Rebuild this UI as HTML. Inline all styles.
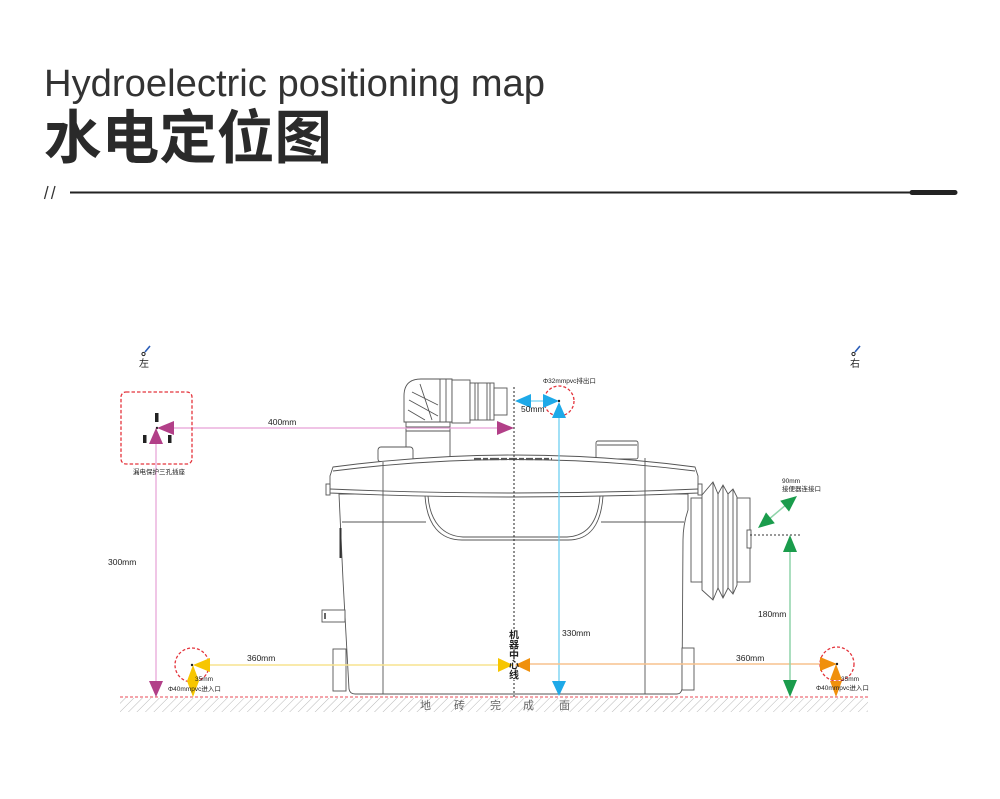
<!DOCTYPE html>
<html><head><meta charset="utf-8">
<style>
html,body{margin:0;padding:0;background:#fff;}
svg{display:block;}
text{font-family:"Liberation Sans","Noto Sans CJK SC",sans-serif;}
</style></head><body>
<svg width="1000" height="799" viewBox="0 0 1000 799" xmlns="http://www.w3.org/2000/svg">
<defs>
<pattern id="hatch" patternUnits="userSpaceOnUse" width="6" height="6" patternTransform="rotate(45)">
<line x1="0" y1="0" x2="0" y2="6" stroke="#b0b0b0" stroke-width="0.9"/>
</pattern>
</defs>
<rect width="1000" height="799" fill="#fff"/>

<!-- header -->
<text x="44" y="96" font-size="38" fill="#333" textLength="501" lengthAdjust="spacingAndGlyphs">Hydroelectric positioning map</text>
<text x="44" y="158" font-size="58" font-weight="bold" fill="#2a2a2a" style="font-family:'Noto Sans CJK SC',sans-serif" textLength="288" lengthAdjust="spacingAndGlyphs">水电定位图</text>
<line x1="44.5" y1="199" x2="48" y2="186" stroke="#333" stroke-width="1.3"/>
<line x1="51.5" y1="199" x2="55" y2="186" stroke="#333" stroke-width="1.3"/>
<line x1="70" y1="192.5" x2="912" y2="192.5" stroke="#222" stroke-width="2"/>
<line x1="912" y1="192.5" x2="955" y2="192.5" stroke="#222" stroke-width="5" stroke-linecap="round"/>

<!-- ground -->
<rect x="120" y="698" width="748" height="14" fill="url(#hatch)"/>
<line x1="120" y1="697" x2="868" y2="697" stroke="#e84a55" stroke-width="1" stroke-dasharray="3 2"/>
<text x="420" y="709" font-size="11" fill="#666">地</text>
<text x="454" y="709" font-size="11" fill="#666">砖</text>
<text x="490" y="709" font-size="11" fill="#666">完</text>
<text x="523" y="709" font-size="11" fill="#666">成</text>
<text x="559" y="709" font-size="11" fill="#666">面</text>

<!-- machine -->
<g stroke="#555" stroke-width="0.9" fill="#fff">
  <!-- pipe -->
  <rect x="406" y="422" width="44" height="37"/>
  <line x1="406" y1="427" x2="450" y2="427"/>
  <line x1="406" y1="431" x2="450" y2="431"/>
  <path d="M404 422 L404 396 Q404 379 421 379 L452 379 L452 422 Z"/>
  <line x1="440" y1="379" x2="440" y2="422"/>
  <line x1="446" y1="379" x2="446" y2="422"/>
  <path d="M409 400 L438 416 M412 392 L438 405 M420 384 L432 420 M408 410 L425 420" fill="none"/>
  <rect x="452" y="380" width="18" height="43"/>
  <rect x="470" y="383" width="24" height="37"/>
  <line x1="475" y1="383" x2="475" y2="420"/>
  <line x1="478" y1="383" x2="478" y2="420"/>
  <line x1="487" y1="383" x2="487" y2="420"/>
  <line x1="490" y1="383" x2="490" y2="420"/>
  <rect x="494" y="388" width="13" height="27"/>
  <!-- caps -->
  <rect x="378" y="447" width="35" height="15" rx="3"/>
  <rect x="596" y="441" width="42" height="18" rx="2"/>
  <line x1="597" y1="445" x2="637" y2="445"/>
  <!-- body -->
  <path d="M339 494 L343 580 L349 689 Q350 694 355 694 L677 694 Q681 694 682 689 L683 540 Q683 525 688 510 L688 494 Z"/>
  <!-- lid -->
  <path d="M333 467 Q514 443 695 467 L698 476 L698 493 Q514 501 330 493 L330 476 Z"/>
  <path d="M333 471 Q514 448 695 471" fill="none"/>
  <path d="M330 489 Q514 497 698 489" fill="none"/>
  <rect x="326" y="484" width="4" height="11"/>
  <rect x="698" y="484" width="4" height="11"/>
  <!-- verticals -->
  <line x1="383" y1="462" x2="383" y2="694"/>
  <line x1="645" y1="458" x2="645" y2="694"/>
  <line x1="342" y1="522" x2="426" y2="522"/>
  <line x1="601" y1="522" x2="684" y2="522"/>
  <!-- bowl -->
  <path d="M425 496 C427 525 440 540 462 540 L568 540 C590 540 601 525 603 496" fill="none"/>
  <path d="M428 496 C430 522 443 536 463 537 L567 537 C587 536 598 522 600 496" fill="none"/>
  <!-- stub + feet -->
  <rect x="322" y="610" width="23" height="12"/>
  <rect x="333" y="649" width="13" height="42"/>
  <rect x="682" y="648" width="12" height="42"/>
  <!-- right connector -->
  <rect x="691" y="498" width="11" height="84"/>
  <path d="M702 495 L713 482 L718 494 L723 485 L728 494 L733 489 L737 497 L737 585 L733 594 L728 588 L723 598 L718 588 L713 600 L702 590 Z"/>
  <line x1="713" y1="482" x2="713" y2="600"/>
  <line x1="718" y1="494" x2="718" y2="588"/>
  <line x1="723" y1="485" x2="723" y2="598"/>
  <line x1="728" y1="494" x2="728" y2="588"/>
  <line x1="733" y1="489" x2="733" y2="594"/>
  <rect x="737" y="498" width="13" height="84"/>
  <rect x="747" y="530" width="4" height="18"/>
</g>
<line x1="340.5" y1="528" x2="340.5" y2="558" stroke="#333" stroke-width="2"/>
<line x1="325" y1="613" x2="325" y2="619" stroke="#333" stroke-width="1.5"/>
<path d="M474 459 L552 459" stroke="#555" stroke-width="2.2" stroke-dasharray="7 2 5 2 9 2 6 2 8 2 5 2 7 2"/>

<!-- center line -->
<line x1="514" y1="387" x2="514" y2="697" stroke="#222" stroke-width="1" stroke-dasharray="2 2"/>
<rect x="508" y="629" width="12" height="51" fill="#fff"/>

<!-- colored lines -->
<g fill="none">
  <path d="M156 443 L156 681 M173 428 L498 428" stroke="#e7a0d6" stroke-width="1.2"/>
  <path d="M559 418 L559 681 M530 401 L543 401" stroke="#6fd0f2" stroke-width="1.3"/>
  <path d="M210 665 L499 665" stroke="#f7e38f" stroke-width="1.6"/>
  <path d="M530 664 L820 664" stroke="#f7c28e" stroke-width="1.6"/>
  <path d="M790 552 L790 680 M768 520 L787 504" stroke="#8fd4aa" stroke-width="1.5"/>
  <path d="M750 535 L800 535" stroke="#333" stroke-width="1" stroke-dasharray="2 2"/>
</g>

<!-- socket -->
<rect x="121" y="392" width="71" height="72" rx="5" fill="none" stroke="#e4343c" stroke-width="1.3" stroke-dasharray="3.5 2"/>
<rect x="155" y="413" width="3.5" height="9" fill="#222"/>
<rect x="143" y="435" width="3.5" height="8" fill="#222"/>
<rect x="168" y="435" width="3.5" height="8" fill="#222"/>
<circle cx="157" cy="428" r="1.2" fill="#222"/>

<!-- circles -->
<g fill="none" stroke="#e4343c" stroke-width="1.3" stroke-dasharray="3 2">
  <circle cx="192" cy="665" r="17"/>
  <circle cx="837" cy="664" r="17"/>
  <circle cx="559" cy="401" r="15"/>
</g>

<!-- arrows -->
<g fill="#b23f88">
  <polygon points="156,428 149,444 163,444"/>
  <polygon points="157,428 174,421 174,435"/>
  <polygon points="514,428 497,421 497,435"/>
  <polygon points="156,697 149,681 163,681"/>
</g>
<g fill="#1ea9e8">
  <polygon points="515,401 531,394 531,408"/>
  <polygon points="559,401 543,394 543,408"/>
  <polygon points="559,402 552,418 566,418"/>
  <polygon points="559,696 552,681 566,681"/>
</g>
<g fill="#f7c600">
  <polygon points="193,665 210,658 210,672"/>
  <polygon points="513,665 498,658 498,672"/>
  <polygon points="193,665 187,681 199,681"/>
  <polygon points="193,697 187,681 199,681"/>
</g>
<g fill="#f0900c">
  <polygon points="515,665 530,658 530,672"/>
  <polygon points="837,664 820,657 820,671"/>
  <polygon points="836,664 830,680 842,680"/>
  <polygon points="836,697 830,681 842,681"/>
</g>
<g fill="#1a9c4c">
  <polygon points="790,535 783,552 797,552"/>
  <polygon points="790,697 783,680 797,680"/>
  <polygon points="758,528 774.8,523.2 766,512.4"/>
  <polygon points="797,496 789,511.6 780.2,500.8"/>
</g>
<circle cx="192" cy="665" r="1.2" fill="#222"/>
<circle cx="837" cy="664" r="1.2" fill="#222"/>
<circle cx="559" cy="401" r="1.2" fill="#222"/>

<!-- pins -->
<circle cx="143.5" cy="354" r="1.6" fill="none" stroke="#222" stroke-width="1"/>
<line x1="145" y1="352" x2="150" y2="346" stroke="#2a5db8" stroke-width="1.6"/>
<circle cx="853.5" cy="354" r="1.6" fill="none" stroke="#222" stroke-width="1"/>
<line x1="855" y1="352" x2="860" y2="346" stroke="#2a5db8" stroke-width="1.6"/>
<text x="139" y="367" font-size="10" fill="#222">左</text>
<text x="850" y="367" font-size="10" fill="#222">右</text>

<!-- labels -->
<g fill="#222" font-size="8.5">
  <text x="268" y="425">400mm</text>
  <text x="108" y="565">300mm</text>
  <text x="521" y="412">50mm</text>
  <text x="562" y="636">330mm</text>
  <text x="758" y="617">180mm</text>
  <text x="247" y="661">360mm</text>
  <text x="736" y="661">360mm</text>
</g>
<g fill="#222" font-size="6.5">
  <text x="543" y="383">Φ32mmpvc排出口</text>
  <text x="782" y="483">90mm</text>
  <text x="782" y="491">接便器连接口</text>
  <text x="195" y="681">35mm</text>
  <text x="841" y="681">35mm</text>
  <text x="168" y="691">Φ40mmpvc进入口</text>
  <text x="816" y="690">Φ40mmpvc进入口</text>
  <text x="133" y="474">漏电保护三孔插座</text>
</g>
<g fill="#222" font-size="10" font-weight="bold" text-anchor="middle">
  <text x="514" y="638.5">机</text>
  <text x="514" y="648.5">器</text>
  <text x="514" y="658.5">中</text>
  <text x="514" y="668.5">心</text>
  <text x="514" y="678.5">线</text>
</g>
</svg>
</body></html>
